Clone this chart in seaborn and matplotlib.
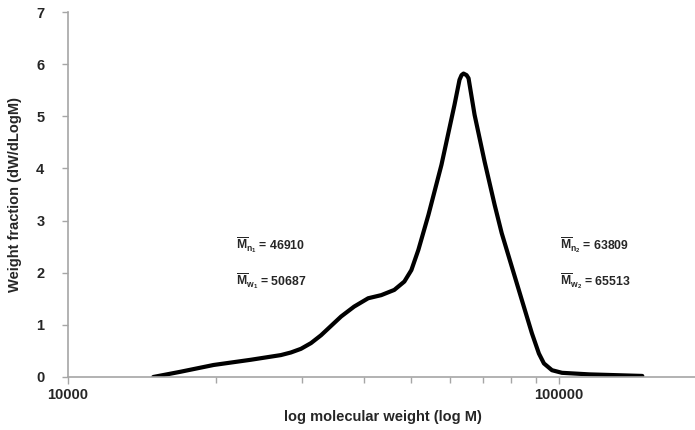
import matplotlib
matplotlib.use("Agg")
import matplotlib.pyplot as plt
import seaborn as sns
import pandas as pd
from matplotlib.ticker import FixedLocator, NullFormatter

# Molecular weight distribution (GPC trace)
mol_weight = [14920, 16946, 19793, 23563, 27140, 28450, 29819, 31260, 32763,
              35998, 38266, 40872, 43460, 46196, 48424, 50049, 51727, 54221,
              57637, 61267, 62726, 63330, 63918, 64830, 65440, 67315, 70563,
              73964, 76446, 80130, 84000, 88070, 91020, 93190, 96770, 101420,
              115190, 147820]
weight_fraction = [0.00, 0.10, 0.23, 0.33, 0.42, 0.47, 0.54, 0.65, 0.80,
                   1.16, 1.35, 1.51, 1.57, 1.67, 1.83, 2.05, 2.44, 3.11,
                   4.07, 5.22, 5.70, 5.79, 5.82, 5.79, 5.73, 5.03, 4.13,
                   3.30, 2.76, 2.12, 1.48, 0.84, 0.45, 0.26, 0.13, 0.08,
                   0.05, 0.02]

x_major_ticks = [10000, 100000]
x_major_labels = ["10000", "100000"]
x_minor_ticks = [20000, 30000, 40000, 50000, 60000, 70000, 80000, 90000]
y_ticks = [0, 1, 2, 3, 4, 5, 6, 7]

left_labels = [r"$\overline{\mathbf{M}}_{\mathbf{n}_{\mathbf{1}}}$",
               r"$\overline{\mathbf{M}}_{\mathbf{w}_{\mathbf{1}}}$"]
left_values = ["46910", "50687"]
right_labels = [r"$\overline{\mathbf{M}}_{\mathbf{n}_{\mathbf{2}}}$",
                r"$\overline{\mathbf{M}}_{\mathbf{w}_{\mathbf{2}}}$"]
right_values = ["63809", "65513"]
label_rows = [2.53, 1.84]

sns.set_style("white")
plt.rcParams["font.family"] = ["Liberation Sans", "DejaVu Sans"]
plt.rcParams["mathtext.fontset"] = "custom"
plt.rcParams["mathtext.rm"] = "Liberation Sans"
plt.rcParams["mathtext.bf"] = "Liberation Sans:bold"
plt.rcParams["mathtext.it"] = "Liberation Sans:italic"

df = pd.DataFrame({"M": mol_weight, "W": weight_fraction})

fig = plt.figure(figsize=(6.95, 4.30), dpi=100)
ax = fig.add_axes([0.0978, 0.1233, 0.905, 0.8487])

sns.lineplot(data=df, x="M", y="W", ax=ax, color="black", linewidth=3,
             solid_joinstyle="round", solid_capstyle="round")

ax.set_xscale("log")
ax.set_xlim(10000, 191000)
ax.set_ylim(0, 7)

ax.xaxis.set_major_locator(FixedLocator(x_major_ticks))
ax.set_xticklabels(x_major_labels)
ax.xaxis.set_minor_locator(FixedLocator(x_minor_ticks))
ax.xaxis.set_minor_formatter(NullFormatter())
ax.set_yticks(y_ticks)

for s in ["top", "right"]:
    ax.spines[s].set_visible(False)
for s in ["left", "bottom"]:
    ax.spines[s].set_color("#a6a6a6")
    ax.spines[s].set_linewidth(1.2)

ax.tick_params(axis="both", which="both", direction="out", color="#a6a6a6",
               width=1, bottom=True, left=True)
ax.tick_params(axis="x", which="major", length=5, pad=3)
ax.tick_params(axis="x", which="minor", length=4)
ax.tick_params(axis="y", which="major", length=4, pad=13)
for lbl in ax.get_xticklabels() + ax.get_yticklabels():
    lbl.set_fontweight("bold")
    lbl.set_fontsize(10.5)

ax.set_xlabel("log molecular weight (log M)", fontsize=10.5,
              fontweight="bold", labelpad=6)
ax.set_ylabel("Weight fraction (dW/dLogM)", fontsize=10.5,
              fontweight="bold", labelpad=10)

# Average molecular weights for the two populations
for lbl, val, yy in zip(left_labels, left_values, label_rows):
    ax.text(22000, yy, lbl + " = " + val, fontsize=8.8, fontweight="bold",
            va="center", ha="left")
for lbl, val, yy in zip(right_labels, right_values, label_rows):
    ax.text(100600, yy, lbl + " = " + val, fontsize=8.8, fontweight="bold",
            va="center", ha="left")

fig.savefig("out.png", dpi=100)
